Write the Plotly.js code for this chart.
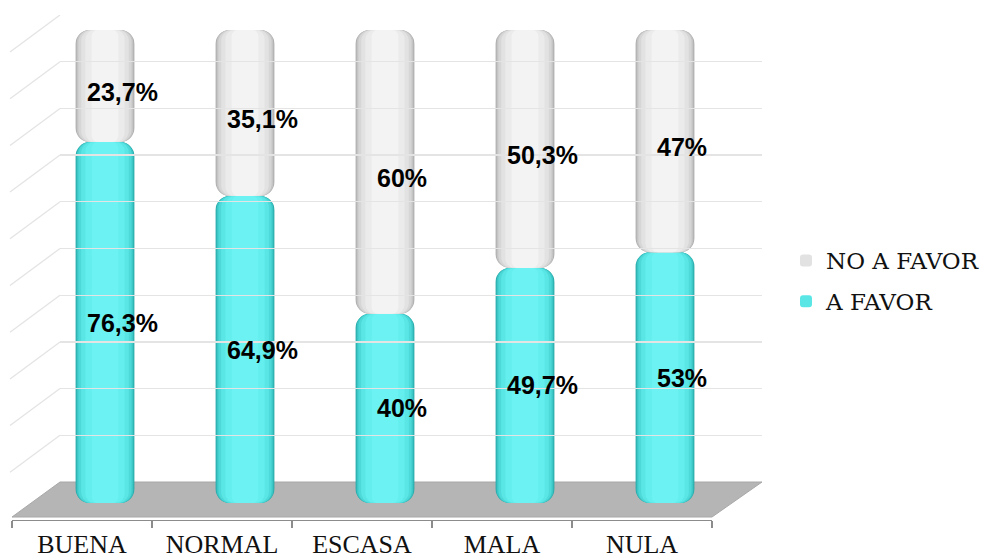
<!DOCTYPE html>
<html>
<head>
<meta charset="utf-8">
<script src="https://cdn.plot.ly/plotly-3.0.1.min.js"></script>
<style>html,body{margin:0;padding:0;background:#fff;}#chart{width:1008px;height:559px;}</style>
</head>
<body>
<div id="chart"></div>
<script>
// ---- data ----
var categories = ['BUENA', 'NORMAL', 'ESCASA', 'MALA', 'NULA'];
var aFavor = [76.3, 64.9, 40, 49.7, 53];
var noAFavor = [23.7, 35.1, 60, 50.3, 47];
var aFavorLabels = ['76,3%', '64,9%', '40%', '49,7%', '53%'];
var noAFavorLabels = ['23,7%', '35,1%', '60%', '50,3%', '47%'];
var seriesNames = ['A FAVOR', 'NO A FAVOR'];
var gridTicks = [10, 20, 30, 40, 50, 60, 70, 80, 90, 100];

// ---- helpers (pixel -> paper) ----
var W = 1008, H = 559;
function px(x) { return x / W; }
function py(y) { return 1 - y / H; }

// cylinder shading layers: width, colours, corner radius
var layers = [
  {w: 0.42, teal: '#2aa9a9', white: '#adadad', r: 14},
  {w: 0.405, teal: '#3cc6c6', white: '#c4c4c4', r: 13.5},
  {w: 0.38, teal: '#4ed9d9', white: '#d6d6d6', r: 12.5},
  {w: 0.34, teal: '#5be6e6', white: '#e2e2e2', r: 11},
  {w: 0.28, teal: '#64eeee', white: '#ebebeb', r: 9},
  {w: 0.19, teal: '#6cf2f2', white: '#f3f3f3', r: 6}
];

var traces = [];
// invisible trace to create the back-wall subplot (gridlines)
traces.push({type: 'scatter', x: [0], y: [0], xaxis: 'x3', yaxis: 'y2', mode: 'markers',
  marker: {opacity: 0}, hoverinfo: 'skip', showlegend: false});
// invisible trace to give the front category axis its categories
traces.push({type: 'scatter', x: categories, y: aFavor, xaxis: 'x2', yaxis: 'y', mode: 'markers',
  marker: {opacity: 0}, hoverinfo: 'skip', showlegend: false});

function segments(bases, values, colorKey, name, rank) {
  layers.forEach(function (L, li) {
    traces.push({
      type: 'bar', x: categories, y: values, base: bases, width: L.w,
      marker: {color: L[colorKey], cornerradius: L.r, line: {width: 0}},
      name: name, legendgroup: name, legendrank: rank,
      showlegend: (li === 3),
      hoverinfo: 'skip'
    });
  });
}
var zeros = categories.map(function () { return 0; });
segments(zeros, aFavor, 'teal', seriesNames[0], 2);
segments(aFavor, noAFavor, 'white', seriesNames[1], 1);

// labels
var annotations = [];
var labelFont = {family: 'Liberation Sans, Arial', size: 25, color: '#000', weight: 'bold'};
categories.forEach(function (c, i) {
  annotations.push({x: c, y: aFavor[i] / 2, xref: 'x', yref: 'y', text: aFavorLabels[i],
    showarrow: false, xshift: 17, font: labelFont});
  annotations.push({x: c, y: aFavor[i] + noAFavor[i] / 2, xref: 'x', yref: 'y', text: noAFavorLabels[i],
    showarrow: false, xshift: 17, yshift: -6, font: labelFont});
});

// decorations: floor + left-wall diagonals
var shapes = [];
shapes.push({type: 'path', xref: 'paper', yref: 'paper', layer: 'below',
  path: 'M ' + px(12) + ',' + py(517) + ' L ' + px(712) + ',' + py(517) + ' L ' + px(762) + ',' + py(482) +
        ' L ' + px(60) + ',' + py(482) + ' Z',
  fillcolor: '#b5b5b5', line: {color: '#a8a8a8', width: 1}});
gridTicks.forEach(function (v) {
  shapes.push({type: 'line', layer: 'below', xref: 'paper', yref: 'y2', ysizemode: 'pixel', yanchor: v,
    x0: px(60), x1: px(10), y0: 0, y1: -37, line: {color: '#e4e4e4', width: 1.3}});
});

var layout = {
  width: W, height: H,
  margin: {l: 0, r: 0, t: 0, b: 0},
  paper_bgcolor: '#ffffff', plot_bgcolor: 'rgba(0,0,0,0)',
  barmode: 'overlay',
  showlegend: true,
  legend: {x: px(786), y: py(239), xanchor: 'left', yanchor: 'top',
    font: {family: 'DejaVu Serif', size: 23, color: '#111'}, tracegroupgap: 8,
    itemwidth: 30, bgcolor: 'rgba(0,0,0,0)'},
  xaxis: {type: 'category', domain: [px(35), px(735)], range: [-0.5, 4.5], visible: false, fixedrange: true},
  yaxis: {domain: [py(503), py(30)], range: [0, 100], visible: false, fixedrange: true},
  xaxis2: {type: 'category', domain: [px(12), px(712)], range: [-0.5, 4.5], anchor: 'free', position: py(520),
    showline: true, linecolor: '#8c8c8c', linewidth: 1.3, ticks: 'outside', tickson: 'boundaries',
    ticklen: 7, tickcolor: '#8c8c8c', tickwidth: 1.3, showgrid: false, zeroline: false,
    tickfont: {family: 'Liberation Serif', size: 26, color: '#111'}, ticklabelstandoff: 0},
  xaxis3: {domain: [px(60), px(762)], range: [0, 1], visible: false, anchor: 'y2'},
  yaxis2: {domain: [py(482), py(15)], range: [0, 100], anchor: 'x3', dtick: 10, showgrid: true,
    gridcolor: '#e4e4e4', gridwidth: 1.3, showticklabels: false, zeroline: false, showline: false, ticks: ''},
  annotations: annotations,
  shapes: shapes
};

Plotly.newPlot('chart', traces, layout, {displayModeBar: false, staticPlot: true});
</script>
</body>
</html>
